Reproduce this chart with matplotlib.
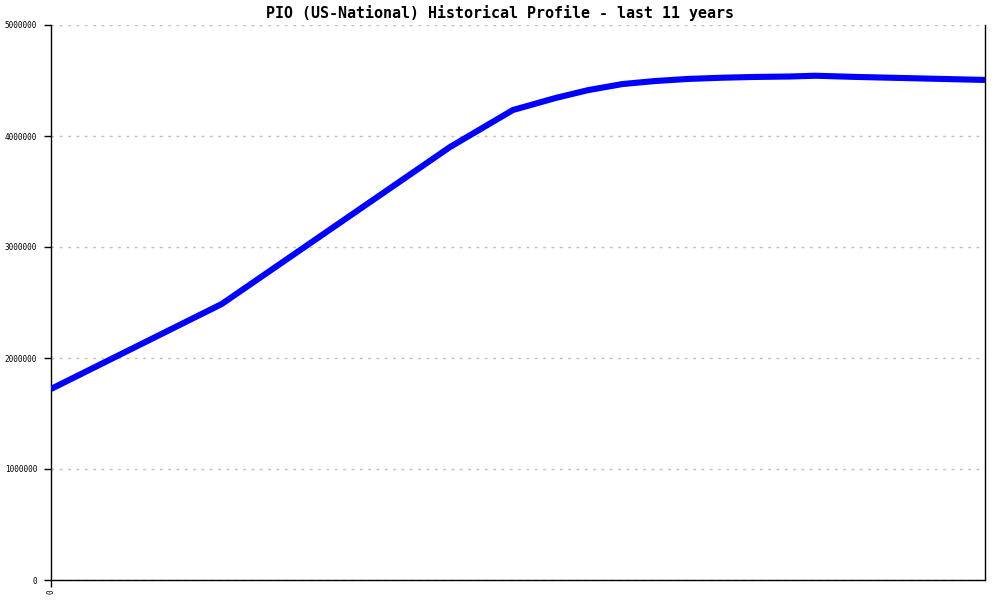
import matplotlib
matplotlib.use("Agg")
import matplotlib.pyplot as plt

# данные (годы от начала периода, значения)
years = [0.0, 2.01, 4.70, 5.44, 5.94, 6.33, 6.73, 7.11, 7.50, 7.90,
         8.29, 8.70, 9.00, 9.49, 10.0, 10.5, 11.0]
values = [1721000, 2486000, 3901000, 4234000, 4342000, 4414000, 4468000,
          4495000, 4514000, 4525000, 4532000, 4536000, 4543000, 4532000,
          4523000, 4514000, 4505000]
yticks = [0, 1000000, 2000000, 3000000, 4000000, 5000000]
title = "PIO (US-National) Historical Profile - last 11 years"

plt.rcParams['font.family'] = 'DejaVu Sans Mono'

fig = plt.figure(figsize=(10, 6), dpi=100)
ax = fig.add_axes([0.051, 1 - 580 / 600, 0.934, 555 / 600])

ax.plot(years, values, color='#0000ff', linewidth=4.4, solid_capstyle='butt',
        solid_joinstyle='round', zorder=3)

ax.set_xlim(0, 11)
ax.set_ylim(0, 5000000)
ax.set_yticks(yticks)
ax.set_yticklabels([str(v) for v in yticks], fontsize=5.5)
ax.set_xticks([0])
ax.set_xticklabels(['0'], rotation=90, fontsize=5.5)
ax.tick_params(axis='y', direction='out', length=5, width=1, color='black', pad=5)
ax.tick_params(axis='x', direction='out', length=5, width=1, color='black', pad=2)

ax.grid(axis='y', color='#c0c0c0', linestyle=(0, (2, 4)), linewidth=1)
ax.set_axisbelow(True)
ax.spines['top'].set_visible(False)
for s in ['left', 'bottom', 'right']:
    ax.spines[s].set_linewidth(1)
    ax.spines[s].set_color('black')

fig.text(0.5, 1 - 13 / 600, title, ha='center', va='center', fontsize=10.8,
         weight='bold')

fig.savefig('out.png', dpi=100)
